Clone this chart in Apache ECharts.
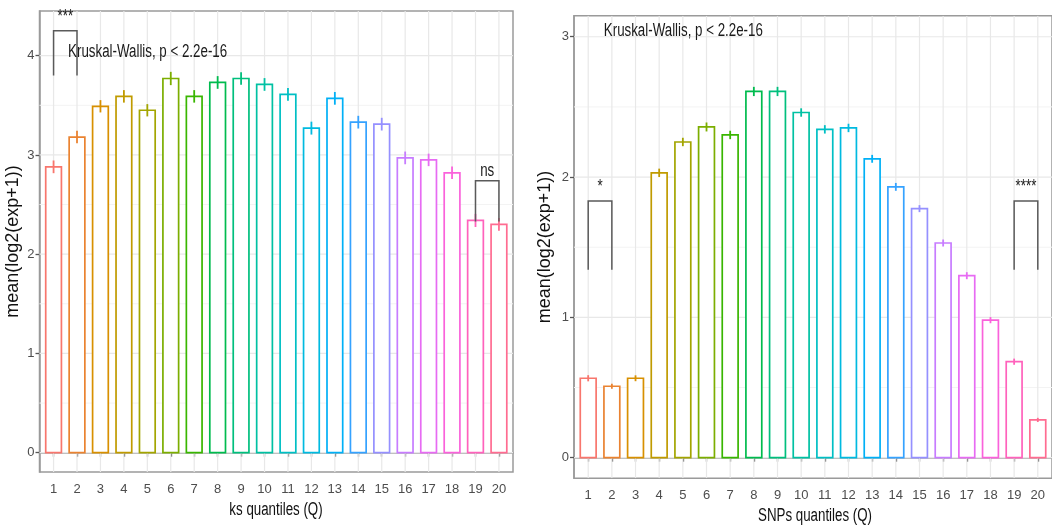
<!DOCTYPE html>
<html>
<head>
<meta charset="utf-8">
<script src="https://cdn.jsdelivr.net/npm/echarts@6/dist/echarts.min.js"></script>
<style>
  html, body { margin: 0; padding: 0; background: #ffffff; }
  #chart { width: 1052px; height: 527px; }
</style>
</head>
<body>
<div id="chart"></div>
<script>
// Quantile bins shared by both panels
const quantiles = [1, 2, 3, 4, 5, 6, 7, 8, 9, 10, 11, 12, 13, 14, 15, 16, 17, 18, 19, 20];

// Left panel: mean expression by ks quantile, with standard errors
const ksMeans  = [2.88, 3.18, 3.49, 3.59, 3.45, 3.77, 3.59, 3.73, 3.77, 3.71,
                  3.61, 3.27, 3.57, 3.33, 3.31, 2.97, 2.95, 2.82, 2.34, 2.30];
const ksErrors = [0.064, 0.063, 0.062, 0.063, 0.062, 0.067, 0.063, 0.064, 0.064, 0.064,
                  0.064, 0.065, 0.064, 0.064, 0.064, 0.064, 0.063, 0.063, 0.066, 0.065];

// Right panel: mean expression by SNPs quantile, with standard errors
const snpMeans  = [0.566, 0.509, 0.566, 2.03, 2.25, 2.357, 2.30, 2.61, 2.61, 2.46,
                   2.34, 2.35, 2.13, 1.93, 1.775, 1.53, 1.297, 0.98, 0.684, 0.269];
const snpErrors = [0.022, 0.018, 0.021, 0.03, 0.03, 0.032, 0.03, 0.033, 0.033, 0.03,
                   0.03, 0.03, 0.028, 0.028, 0.025, 0.025, 0.025, 0.022, 0.022, 0.015];

// Axis ticks
const ksTicksY  = [0, 1, 2, 3, 4];
const ksMinorY  = [0.5, 1.5, 2.5, 3.5];
const snpTicksY = [0, 1, 2, 3];
const snpMinorY = [0.5, 1.5, 2.5];

// Pairwise comparisons: [group A, group B, bracket top, leg bottom, significance]
const ksComparisons  = [[1, 2, 4.25, 3.80, '***'], [19, 20, 2.74, 2.33, 'ns']];
const snpComparisons = [[1, 2, 1.83, 1.34, '*'], [19, 20, 1.83, 1.34, '****']];

// Global test annotation and axis titles
const testLabel = 'Kruskal-Wallis, p < 2.2e-16';
const yTitle = 'mean(log2(exp+1))';
const ksTitle = 'ks quantiles (Q)';
const snpTitle = 'SNPs quantiles (Q)';

// ggplot2 default hue palette, 20 levels
const huePalette = ['#F8766D', '#EA8331', '#D89000', '#C09B00', '#A3A500', '#7CAE00', '#39B600',
                    '#00BB4E', '#00BF7D', '#00C1A3', '#00BFC4', '#00BAE0', '#00B0F6', '#35A2FF',
                    '#9590FF', '#C77CFF', '#E76BF3', '#FA62DB', '#FF62BC', '#FF6C91'];

const SANS = '"Liberation Sans", Arial, sans-serif';
const SQUEEZE = 0.74;   // horizontal compression of annotation text
const BAR_WIDTH = 0.67;

function squeezedText(x, y, text, size, align, vAlign, color) {
  return {
    type: 'text', x, y, scaleX: SQUEEZE,
    style: { text, x: 0, y: 0, align, verticalAlign: vAlign, fill: color, font: size + 'px ' + SANS }
  };
}

// Background grid: kind 0 = major horizontal, 1 = minor horizontal, 2 = vertical
function gridSeries(axisIndex, majorY, minorY) {
  const rows = [
    ...minorY.map(v => [1, v]),
    ...majorY.map(v => [0, v]),
    ...quantiles.map(q => [2, q])
  ];
  return {
    type: 'custom',
    xAxisIndex: axisIndex,
    yAxisIndex: axisIndex,
    z: 1,
    silent: true,
    clip: true,
    encode: { x: -1, y: -1 },
    data: rows,
    renderItem(params, api) {
      const cs = params.coordSys;
      const kind = api.value(0), v = api.value(1);
      if (kind === 2) {
        const x = api.coord([v, 0])[0];
        return { type: 'line', shape: { x1: x, y1: cs.y, x2: x, y2: cs.y + cs.height },
                 style: { stroke: '#e8e8e8', lineWidth: 1.2 } };
      }
      const y = api.coord([1, v])[1];
      return { type: 'line', shape: { x1: cs.x, y1: y, x2: cs.x + cs.width, y2: y },
               style: { stroke: kind === 0 ? '#e8e8e8' : '#f3f3f3', lineWidth: kind === 0 ? 1.2 : 1 } };
    }
  };
}

function barSeries(axisIndex, means, errors) {
  return {
    type: 'custom',
    xAxisIndex: axisIndex,
    yAxisIndex: axisIndex,
    z: 3,
    silent: true,
    data: quantiles.map((q, i) => [q, means[i], errors[i]]),
    renderItem(params, api) {
      const x = api.value(0), y = api.value(1), e = api.value(2);
      const base = api.coord([x, 0]);
      const top = api.coord([x, y]);
      const lo = api.coord([x, y - e]);
      const hi = api.coord([x, y + e]);
      const w = api.size([BAR_WIDTH, 0])[0];
      const color = huePalette[params.dataIndex];
      return {
        type: 'group',
        children: [
          { type: 'rect',
            shape: { x: base[0] - w / 2, y: top[1], width: w, height: base[1] - top[1] },
            style: { fill: '#ffffff', stroke: color, lineWidth: 1.7 } },
          { type: 'line',
            shape: { x1: lo[0], y1: lo[1], x2: hi[0], y2: hi[1] },
            style: { stroke: color, lineWidth: 1.8 } }
        ]
      };
    }
  };
}

function comparisonSeries(axisIndex, comparisons) {
  return {
    type: 'custom',
    xAxisIndex: axisIndex,
    yAxisIndex: axisIndex,
    z: 4,
    silent: true,
    encode: { x: [0, 1], y: [2, 3] },
    data: comparisons,
    renderItem(params, api) {
      const c = comparisons[params.dataIndex];
      const a0 = api.coord([c[0], c[3]]);
      const a1 = api.coord([c[0], c[2]]);
      const b1 = api.coord([c[1], c[2]]);
      const b0 = api.coord([c[1], c[3]]);
      const isStars = c[4].indexOf('*') >= 0;
      const label = squeezedText((a1[0] + b1[0]) / 2, a1[1] - (isStars ? 5 : 1), c[4], 18,
                                 'center', 'bottom', '#1a1a1a');
      return {
        type: 'group',
        children: [
          { type: 'polyline',
            shape: { points: [a0, a1, b1, b0] },
            style: { stroke: '#5a5a5a', lineWidth: 1.5, fill: 'none' } },
          label
        ]
      };
    }
  };
}

function testSeries(axisIndex, pos) {
  return {
    type: 'custom',
    xAxisIndex: axisIndex,
    yAxisIndex: axisIndex,
    z: 4,
    silent: true,
    data: [pos],
    renderItem(params, api) {
      const p = api.coord([api.value(0), api.value(1)]);
      return squeezedText(p[0], p[1], testLabel, 18, 'left', 'middle', '#1a1a1a');
    }
  };
}

function xAxis(gridIndex, labelMargin) {
  return {
    type: 'value',
    gridIndex,
    min: 0.4,
    max: 20.6,
    axisLine: { show: true, lineStyle: { color: '#9a9a9a', width: 1.5 } },
    axisTick: { show: true, length: 4, customValues: quantiles, lineStyle: { color: '#555555', width: 1.3 } },
    axisLabel: { customValues: quantiles, color: '#4d4d4d', fontSize: 13, fontFamily: SANS, margin: labelMargin },
    splitLine: { show: false }
  };
}

function yAxis(gridIndex, min, max, ticks, gap) {
  return {
    type: 'value',
    gridIndex,
    min, max,
    name: yTitle,
    nameLocation: 'middle',
    nameGap: gap,
    nameTextStyle: { color: '#111111', fontSize: 18, fontFamily: SANS },
    axisLine: { show: true, lineStyle: { color: '#9a9a9a', width: 1.5 } },
    axisTick: { show: true, length: 4, customValues: ticks, lineStyle: { color: '#555555', width: 1.3 } },
    axisLabel: { customValues: ticks, color: '#4d4d4d', fontSize: 13, fontFamily: SANS, margin: 5 },
    splitLine: { show: false }
  };
}

const chart = echarts.init(document.getElementById('chart'), null, { renderer: 'canvas' });
chart.setOption({
  animation: false,
  backgroundColor: '#ffffff',
  grid: [
    { left: 39.5, right: 539, top: 11, bottom: 55, show: true, borderColor: '#9a9a9a', borderWidth: 1.5, backgroundColor: 'transparent' },
    { left: 574, right: -4, top: 15.7, bottom: 48.7, show: true, borderColor: '#9a9a9a', borderWidth: 1.5, backgroundColor: 'transparent' }
  ],
  xAxis: [xAxis(0, 11), xAxis(1, 11)],
  yAxis: [yAxis(0, -0.1945, 4.45, ksTicksY, 17), yAxis(1, -0.147, 3.15, snpTicksY, 20)],
  graphic: [
    squeezedText(276, 510, ksTitle, 18, 'center', 'middle', '#111111'),
    squeezedText(815, 516, snpTitle, 18, 'center', 'middle', '#111111')
  ],
  series: [
    gridSeries(0, ksTicksY, ksMinorY),
    gridSeries(1, snpTicksY, snpMinorY),
    barSeries(0, ksMeans, ksErrors),
    barSeries(1, snpMeans, snpErrors),
    comparisonSeries(0, ksComparisons),
    comparisonSeries(1, snpComparisons),
    testSeries(0, [1.62, 4.04]),
    testSeries(1, [1.66, 3.04])
  ]
});
</script>
</body>
</html>
